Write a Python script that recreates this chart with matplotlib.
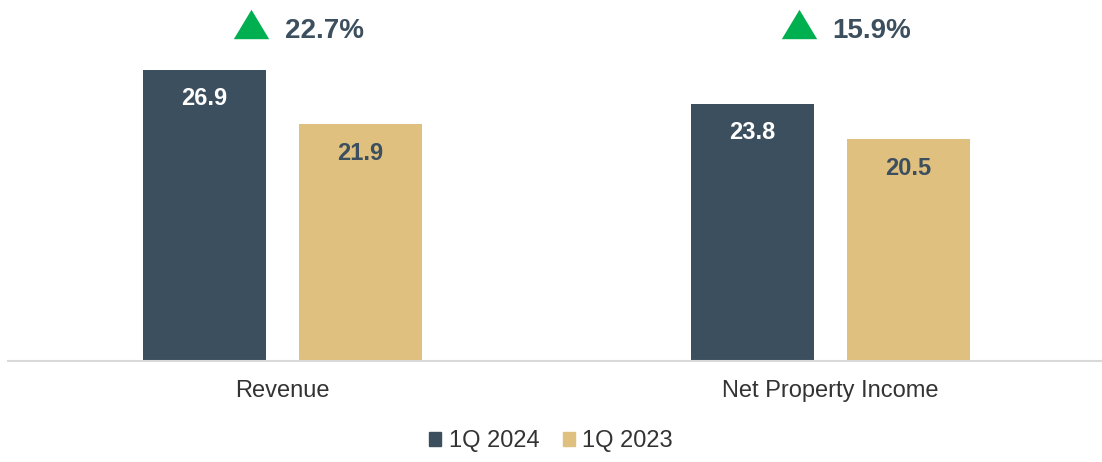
import matplotlib
matplotlib.use("Agg")
import matplotlib.pyplot as plt
from matplotlib.patches import Patch
import numpy as np

plt.rcParams['font.family'] = ['Liberation Sans', 'DejaVu Sans']

categories = ['Revenue', 'Net Property Income']
q1_2024 = [26.9, 23.8]
q1_2023 = [21.9, 20.5]
growth = ['22.7%', '15.9%']
series_names = ['1Q 2024', '1Q 2023']

dark = '#3C4F5E'
gold = '#E0C07F'
green = '#00B050'
text_dark = '#3C4F5E'

fig = plt.figure(figsize=(11.02, 4.62), dpi=100)
ax = fig.add_axes([8 / 1102, 101 / 462, 1094 / 1102, 357 / 462])

x = np.arange(len(categories))
width = 0.2245
offset = 0.1423

bars_new = ax.bar(x - offset, q1_2024, width, color=dark)
bars_old = ax.bar(x + offset, q1_2023, width, color=gold)

# value labels sit just inside the top of each bar
for bars, vals, col in [(bars_new, q1_2024, 'white'), (bars_old, q1_2023, text_dark)]:
    for b, v in zip(bars, vals):
        ax.annotate(f'{v:.1f}', (b.get_x() + b.get_width() / 2, v),
                    xytext=(0, -35.5), textcoords='offset pixels',
                    ha='center', va='baseline', fontsize=17,
                    fontweight='bold', color=col)

# growth markers above each group
tri = [(-1, -0.83), (1, -0.83), (0, 0.83), (-1, -0.83)]
for xi, g in zip(x, growth):
    ax.plot([xi - 0.058], [31.15], marker=tri, markersize=25.5,
            color=green, markeredgewidth=0, clip_on=False)
    ax.text(xi + 0.004, 30.55, g, ha='left', va='center', fontsize=20,
            fontweight='bold', color=text_dark)

ax.set_xlim(-0.5009, 1.4954)
ax.set_ylim(0, 33)
ax.set_xticks(x)
ax.set_xticklabels(categories, fontsize=17, color='#333333')
ax.tick_params(axis='x', length=0, pad=13.5)
ax.set_yticks([])
for s in ['top', 'right', 'left']:
    ax.spines[s].set_visible(False)
ax.spines['bottom'].set_color('#D9D9D9')
ax.spines['bottom'].set_linewidth(1.5)

handles = [Patch(color=dark), Patch(color=gold)]
fig.legend(handles, series_names, loc='center', bbox_to_anchor=(0.5, 1 - 441 / 462),
           ncol=2, frameon=False, fontsize=17, handlelength=0.52, handleheight=0.52,
           handletextpad=0.3, columnspacing=1.0, labelcolor='#333333')

fig.savefig('out.png', dpi=100)
